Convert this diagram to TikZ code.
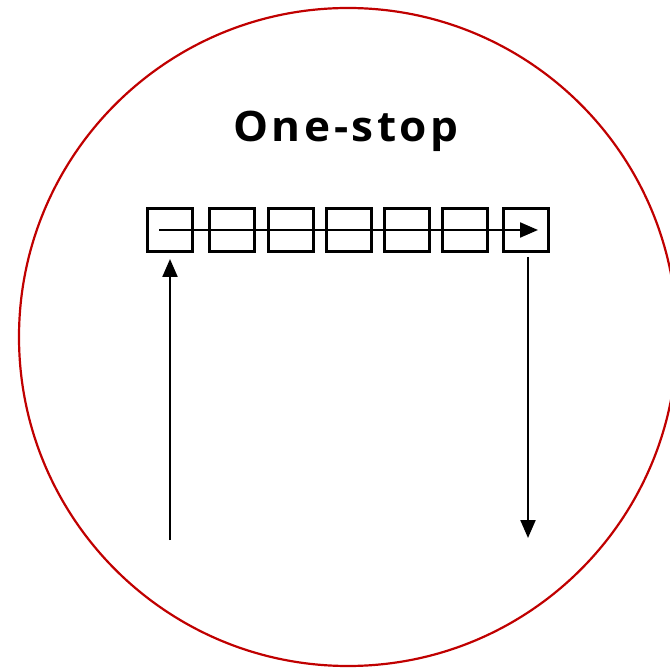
\documentclass[tikz,border=0pt]{standalone}
\usepackage{fontspec}
\setmainfont{DejaVu Sans}
\newfontfamily\titlefont[LetterSpace=8]{Open Sans}
\usetikzlibrary{arrows.meta}
\definecolor{ringred}{HTML}{C00000}
\begin{document}
\begin{tikzpicture}[x=1pt,y=-1pt,
  cell/.style={draw=black,line width=2.4pt,minimum width=45pt,minimum height=43pt,inner sep=0pt},
  flow/.style={line width=2.2pt,-{Triangle[length=18pt,width=15pt]}},
  title/.style={font=\titlefont\bfseries\fontsize{42}{42}\selectfont,inner sep=0pt}]
\useasboundingbox (0,0) rectangle (670,668);
\draw[ringred,line width=2.2pt] (348,337) circle (329);
\node[title] (t) at (346,131) {\scalebox{1.05}[1]{One-stop}};
\foreach \i/\x in {1/170,2/232,3/291,4/349,5/407,6/465,7/526}
  \node[cell] (b\i) at (\x,230) {};
\coordinate (hs) at (159,230);
\coordinate (he) at (538,230);
\draw[flow] (hs) -- (he);
\coordinate (lin) at (170,540);
\coordinate (ltip) at (170,259);
\draw[flow] (lin) -- (ltip);
\coordinate (rout) at (528,257);
\coordinate (rtip) at (528,538);
\draw[flow] (rout) -- (rtip);
\end{tikzpicture}
\end{document}
